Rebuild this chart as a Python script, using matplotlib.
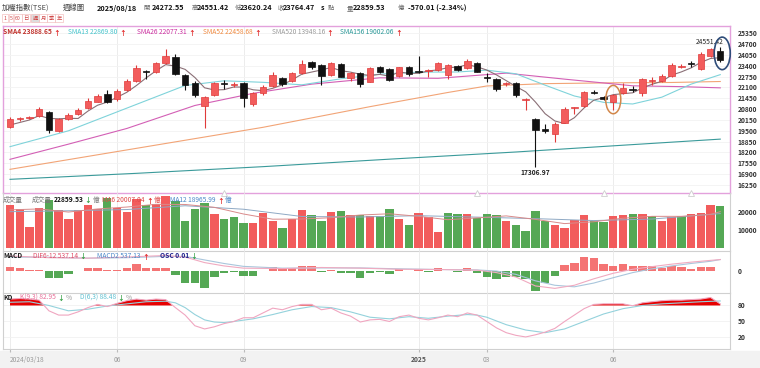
import numpy as np
import matplotlib
matplotlib.use('Agg')
from matplotlib import pyplot as plt
from matplotlib.patches import Ellipse, Rectangle

plt.rcParams['font.family'] = ['Noto Sans CJK TC', 'DejaVu Sans']

W, H = 760, 368

# weekly candles, 2024/03/18 .. 2025/08/18
opens = [19730, 20200, 20270, 20410, 20610, 19510, 20210, 20510, 20870, 21250,
         21710, 21390, 21950, 22510, 23110, 23010, 23550, 23950, 22850, 22350,
         21010, 21650, 22380, 22270, 22350, 21110, 21750, 22190, 22650, 22510,
         22950, 23630, 23450, 22850, 23490, 22650, 22990, 22450, 23310, 23190,
         22810, 23310, 23080, 23090, 23150, 22850, 23410, 23250, 23590, 22720,
         22590, 22290, 22390, 21370, 20190, 19600, 19310, 19990, 20890, 20990,
         21810, 21550, 21250, 21750, 22010, 21750, 22490, 22510, 22790, 23330,
         23530, 23210, 23990, 24272.55]
highs = [20300, 20330, 20400, 20950, 20700, 20250, 20550, 20850, 21480, 21700,
         21950, 22000, 22600, 23450, 23150, 23650, 24420, 24100, 22900, 22500,
         21600, 22450, 22550, 22400, 22450, 21800, 22250, 23050, 22700, 23050,
         23750, 23700, 23500, 23650, 23550, 23050, 23050, 23300, 23400, 23250,
         23350, 23400, 23990, 23200, 23650, 23500, 23450, 23800, 23650, 22950,
         22650, 22450, 22450, 21450, 20250, 19900, 20000, 20900, 20950, 21900,
         21950, 21600, 21700, 22350, 22200, 22650, 22750, 22900, 23550, 23500,
         23700, 24200, 24450, 24551.42]
lows = [19650, 20100, 20200, 20350, 19350, 19450, 20150, 20450, 20800, 21200,
        21150, 21300, 21900, 22450, 22590, 22950, 23500, 22850, 21950, 21500,
        19660, 21600, 22000, 22150, 20950, 21000, 21650, 22100, 22200, 22450,
        22900, 23200, 22250, 22800, 22700, 22500, 22100, 22400, 22950, 22500,
        22750, 22800, 22950, 22700, 23100, 22600, 23100, 23200, 23000, 22400,
        21900, 22200, 21550, 20750, 17306.97, 19350, 18850, 19950, 20500, 20950,
        21700, 21350, 20750, 21700, 21850, 21600, 22250, 22450, 22700, 23250,
        23300, 23150, 23900, 23620.24]
closes = [20230, 20290, 20330, 20810, 19550, 20190, 20450, 20770, 21310, 21610,
          21210, 21910, 22510, 23250, 23050, 23590, 23990, 22910, 22250, 21650,
          21510, 22390, 22330, 22300, 21450, 21750, 22150, 22850, 22290, 22950,
          23510, 23350, 22790, 23550, 22750, 22990, 22290, 23250, 23010, 22550,
          23310, 22910, 23030, 23130, 23550, 23450, 23150, 23710, 23050, 22670,
          21990, 22330, 21650, 21400, 19550, 19500, 19910, 20810, 20920, 21850,
          21770, 21410, 21650, 22090, 21970, 22590, 22530, 22790, 23450, 23370,
          23490, 24110, 24390, 23764.47]
close_before = 19680

sma4 = [19850, 20000, 20150, 20415, 20245, 20220, 20250, 20240, 20680, 21035,
        21225, 21510, 21810, 22220, 22680, 23100, 23470, 23385, 23185, 22700,
        22080, 21950, 21970, 22130, 22120, 21960, 21910, 22050, 22260, 22560,
        22900, 23025, 23150, 23300, 23110, 23020, 22895, 22820, 22885, 22775,
        23030, 22945, 22950, 23095, 23155, 23290, 23320, 23465, 23340, 23145,
        22855, 22510, 22160, 21840, 21230, 20525, 20090, 19940, 20285, 20870,
        21340, 21490, 21670, 21730, 21780, 22075, 22295, 22470, 22840, 23035,
        23275, 23605, 23840, 23888.65]
sma13_idx = [0, 6, 12, 18, 22, 26, 30, 34, 38, 42, 46, 49, 52, 55, 58, 61, 64, 67, 70, 73]
sma13 = [18550, 19500, 20860, 22220, 22500, 22410, 22260, 22620, 22900, 23020,
         23030, 23140, 22920, 22240, 21590, 21210, 21110, 21520, 22300, 22869.80]
sma26_idx = [0, 6, 12, 19, 25, 31, 38, 44, 51, 57, 64, 69, 73]
sma26 = [17790, 18700, 19640, 21020, 21750, 22300, 22680, 22650, 22960, 22600,
         22200, 22150, 22077.31]
sma52_idx = [0, 13, 26, 37, 45, 49, 55, 62, 68, 73]
sma52 = [17190, 18450, 19710, 20950, 21800, 22190, 22330, 22380, 22400, 22458.68]
sma156_idx = [0, 13, 26, 39, 52, 62, 73]
sma156 = [16590, 16950, 17350, 17800, 18230, 18600, 19002.06]

volumes = [23900, 21700, 11800, 22100, 26600, 20800, 15800, 20800, 23400, 21700,
           27500, 22100, 19700, 27000, 23400, 24300, 28400, 25700, 14800, 21600,
           24800, 19000, 16100, 17000, 14000, 14000, 19500, 15000, 11000, 16000,
           20700, 18000, 15000, 19700, 20500, 18000, 18000, 17900, 17600, 21200,
           16100, 12700, 19400, 17200, 9100, 19400, 18500, 18800, 16700, 19000,
           18100, 15200, 13000, 9400, 20300, 14900, 12700, 10900, 15400, 18100,
           15200, 14300, 17600, 18100, 18500, 18800, 17600, 15200, 17200, 17600,
           18500, 19400, 23400, 22859.53]
vma6_idx = [0, 3, 6, 9, 12, 15, 18, 21, 24, 27, 30, 33, 36, 39, 42, 45, 48, 51,
            54, 57, 60, 63, 66, 69, 72, 73]
vma6 = [21000, 21500, 19800, 21500, 22530, 24000, 23930, 22380, 18750, 15930,
        16030, 16730, 18200, 18870, 17480, 15650, 16620, 17720, 15830, 13530,
        14530, 16450, 17480, 17480, 18550, 20007.04]
vma12_idx = [0, 6, 12, 18, 24, 30, 36, 42, 48, 54, 60, 66, 73]
vma12 = [20000, 20500, 21170, 23230, 21340, 17390, 17120, 17840, 17050, 16230,
         15180, 16010, 18965.99]

osc = [195, 135, 70, 55, -300, -300, -130, 20, 170, 170,
       65, 60, 170, 320, 170, 170, 170, -160, -530, -530,
       -760, -230, -80, -20, -200, -200, 10, 220, 110, 170,
       260, 230, -10, 60, -90, -90, -280, -50, -10, -110,
       100, 10, 100, -10, 140, 10, -10, 140, -80, -230,
       -350, -260, -260, -350, -860, -530, -200, 290, 400, 670,
       590, 340, 250, 340, 250, 250, 250, 140, 250, 190,
       110, 190, 220, 0.01]
macd_idx = [0, 4, 8, 12, 16, 18, 20, 22, 24, 28, 32, 36, 40, 44, 48, 50, 52, 54,
            56, 58, 60, 62, 64, 66, 68, 70, 72, 73]
dif = [700, 620, 600, 650, 720, 650, 400, 250, 150, 130, 180, 150, 100, 90, 60,
       -50, -250, -650, -760, -620, -330, -80, 100, 220, 330, 420, 500, 537.14]
sig = [650, 640, 600, 620, 680, 680, 520, 360, 230, 150, 160, 160, 120, 90, 70,
       20, -130, -420, -620, -690, -520, -280, -50, 120, 250, 360, 460, 537.13]

k_vals = [92, 93, 92, 90, 70, 62, 62, 68, 76, 82,
          78, 84, 89, 92, 90, 92, 91, 76, 62, 42,
          36, 40, 46, 50, 57, 57, 66, 75, 72, 78,
          82, 82, 72, 75, 66, 60, 49, 53, 54, 50,
          59, 62, 56, 53, 57, 62, 59, 66, 62, 50,
          38, 29, 24, 21, 25, 30, 37, 50, 62, 74,
          82, 83, 83, 83, 79.5, 85, 87, 89, 90, 90,
          91, 92, 95, 82.95]
d_idx = [0, 2, 4, 6, 8, 10, 12, 14, 16, 17, 18, 19, 20, 21, 22, 23, 25, 27, 29, 31,
         33, 35, 37, 39, 41, 43, 45, 47, 48, 49, 51, 53, 55, 57, 59, 61, 63, 65, 67,
         69, 71, 73]
d_vals = [86, 87, 80, 70, 73, 79, 83, 87, 88, 85, 76, 63, 53, 49, 48, 50, 55, 63, 72, 78,
          76, 68, 58, 55, 59, 56, 60, 63, 62, 58, 44, 34, 29, 36, 50, 64, 74, 80, 83,
          85, 87, 88.48]

price_ticks = [16250, 16900, 17550, 18200, 18850, 19500, 20150, 20800, 21450,
               22100, 22750, 23400, 24050, 24700, 25350]
date_idx = [0, 11, 24, 42, 49, 62]
date_labels = ['2024/03/18', '06', '09', '2025', '03', '06']
event_idx = [22, 48, 61, 70]

RED = '#f25c5c'
RED_EDGE = '#e03a3a'
GREEN = '#55a855'
PINK = '#e3a1dc'


def box(x0, y0, x1, y1):
    return [x0 / W, 1 - y1 / H, (x1 - x0) / W, (y1 - y0) / H]


fig = plt.figure(figsize=(W / 100, H / 100), dpi=100)
fig.patch.set_facecolor('white')
fig.patches.append(Rectangle((0, 0), 1, 17 / H, transform=fig.transFigure,
                             color='#f2f2f2', zorder=-10))

ax_p = fig.add_axes(box(3, 26, 730, 193))
ax_v = fig.add_axes(box(3, 193, 730, 251))
ax_m = fig.add_axes(box(3, 251, 730, 293))
ax_k = fig.add_axes(box(3, 293, 730, 349))

x = np.arange(len(closes))
o = np.array(opens)
c = np.array(closes)
for ax in [ax_p, ax_v, ax_m, ax_k]:
    ax.set_xlim(-0.72, 74.0)
    ax.set_xticks([])
    ax.patch.set_alpha(0)
    ax.tick_params(axis='y', left=False, labelleft=False, right=False,
                   labelright=True, pad=2, labelsize=4.8, labelcolor='#333333')
    for xi in date_idx:
        ax.axvline(xi, color='#e9e9e9', lw=0.6, zorder=0)
    for s in ax.spines.values():
        s.set_color('#d0d0d0')
        s.set_linewidth(0.8)
    ax.spines['top'].set_visible(False)

# price panel
for s in ax_p.spines.values():
    s.set_visible(True)
    s.set_color(PINK)
    s.set_linewidth(1.0)
ax_p.set_ylim(15770, 25788)
ax_p.set_yticks(price_ticks)
ax_p.set_yticklabels([str(t) for t in price_ticks], fontweight='bold')
ax_p.hlines(price_ticks, -1, 75, color='#f3f3f3', lw=0.6, zorder=0)

ax_p.plot(sma156_idx, sma156, color='#3a9a9a', lw=0.8)
ax_p.plot(sma52_idx, sma52, color='#f2a476', lw=0.8)
ax_p.plot(sma26_idx, sma26, color='#d35fb5', lw=0.8)
ax_p.plot(sma13_idx, sma13, color='#7fd3da', lw=0.8)
ax_p.plot(x, sma4, color='#8a6f76', lw=0.8)

up = c >= o
edge = np.where(up, RED_EDGE, '#111111')
face = np.where(up, RED, '#111111')
ax_p.vlines(x, lows, highs, colors=edge, lw=0.8, zorder=3)
ax_p.bar(x, np.maximum(np.abs(c - o), 50), bottom=np.minimum(o, c), width=0.66,
         color=face, edgecolor=edge, lw=0.5, zorder=4)

ax_p.annotate(f'{highs[-1]:.2f}', xy=(x[-1], highs[-1]), xytext=(2, 0.5),
              textcoords='offset points', ha='right', va='bottom',
              fontsize=4.8, color='#222222')
lo_i = int(np.argmin(lows))
ax_p.annotate(f'{lows[lo_i]:.2f}', xy=(lo_i, lows[lo_i]), xytext=(0, -1),
              textcoords='offset points', ha='center', va='top',
              fontsize=4.8, fontweight='bold', color='#222222')

ax_p.add_patch(Ellipse((62, (highs[62] + lows[62]) / 2 + 150), 1.55, 1700,
                       fill=False, ec='#d2874a', lw=1.1, zorder=6))
ax_p.add_patch(Ellipse((73.2, (highs[73] + lows[73]) / 2 + 60), 1.65, 1950,
                       fill=False, ec='#2f4d7a', lw=1.2, zorder=6, clip_on=False))
ax_p.plot(event_idx, [15770] * len(event_idx), ls='none', marker='^', ms=4,
          mfc='white', mec='#cfcfcf', mew=0.6, clip_on=False, zorder=5)

# volume panel
prev = np.concatenate([[close_before], c[:-1]])
ax_v.bar(x, volumes, width=0.86, color=np.where(c >= prev, RED, GREEN), zorder=2)
ax_v.plot(vma12_idx, vma12, color='#8fa9c4', lw=0.7, zorder=3)
ax_v.plot(vma6_idx, vma6, color='#d98a8a', lw=0.7, zorder=3)
ax_v.set_ylim(-1360, 30160)
ax_v.set_yticks([10000, 20000])
ax_v.set_yticklabels(['10000', '20000'], fontweight='bold')

# MACD panel
osc_a = np.array(osc)
ax_m.bar(x, osc_a, width=0.86, color=np.where(osc_a >= 0, '#f47474', GREEN), zorder=2)
ax_m.plot(macd_idx, sig, color='#a9c6dc', lw=0.8, zorder=3)
ax_m.plot(macd_idx, dif, color='#f0aac0', lw=0.8, zorder=3)
ax_m.set_ylim(-968, 922)
ax_m.set_yticks([0])
ax_m.set_yticklabels(['0'], fontweight='bold')

# KD panel
k_a = np.array(k_vals, dtype=float)
ax_k.hlines([20, 50, 80], -1, 75, color='#f1f1f1', lw=0.6, zorder=0)
ax_k.fill_between(x, k_a, 80, where=k_a >= 80, interpolate=True,
                  color='#e60000', lw=0, zorder=2)
ax_k.plot(d_idx, d_vals, color='#94d2dc', lw=0.8, zorder=3)
ax_k.plot(x, k_a, color='#f0a6c0', lw=0.8, zorder=3)
ax_k.set_ylim(-1.6, 103.4)
ax_k.set_yticks([20, 50, 80])
ax_k.set_yticklabels(['20', '50', '80'], fontweight='bold')
ax_k.set_xticks(date_idx)
ax_k.set_xticklabels(date_labels, fontsize=4.8, color='#9a9a9a')
ax_k.tick_params(axis='x', length=2.5, color='#bbbbbb', pad=2.5)
lbls = ax_k.get_xticklabels()
lbls[0].set_ha('left')
lbls[3].set_fontweight('bold')
lbls[3].set_color('#555555')

# texts
renderer = fig.canvas.get_renderer()


def chain(xp, yp, parts, size=4.8, gap=1.5):
    for s, col, wt in parts:
        t = fig.text(xp / W, 1 - yp / H, s, color=col, fontsize=size,
                     fontweight=wt, va='center', ha='left', zorder=10)
        xp = t.get_window_extent(renderer).x1 + gap


def put(xp, yp, s, col, wt='normal', size=5.2):
    fig.text(xp / W, 1 - yp / H, s, color=col, fontsize=size, fontweight=wt,
             va='center', ha='left')


UPC = '#e02020'
DNC = '#2e9e3e'

hdr_y = 8
put(2, hdr_y, '加權指數(TSE)', '#444444', size=5.3)
put(63, hdr_y, '週線圖', '#444444', size=5.3)
put(97, hdr_y, '2025/08/18', '#111111', 'bold')
for xl, xv, lab, val in [(143, 152, '開', opens[-1]), (192, 197, '高', highs[-1]),
                         (235, 240, '低', lows[-1]), (278, 283, '收', closes[-1])]:
    put(xl, hdr_y, lab, '#666666', size=4.6)
    put(xv, hdr_y, f'{val:.2f}', '#111111', 'bold')
put(321, hdr_y, 's', '#111111', 'bold')
put(328, hdr_y, '點', '#666666', size=4.6)
put(347, hdr_y, '量', '#666666', size=4.6)
put(353, hdr_y, f'{volumes[-1]:.2f}', '#111111', 'bold')
put(398, hdr_y, '億', '#666666', size=4.6)
put(408, hdr_y, '-570.01 (-2.34%)', '#111111', 'bold')

btn_labels = ['1', '5', '60', '日', '週', '月', '季', '年']
btn_x = [5, 11, 18, 26, 35, 43, 51, 59]
for bx, bl in zip(btn_x, btn_labels):
    fig.text(bx / W, 1 - 18 / H, bl, fontsize=3.8, color='#d04848', ha='center',
             va='center', bbox=dict(boxstyle='square,pad=0.2', lw=0.4,
                                    ec='#f0b0b0',
                                    fc='#dddddd' if bl == '週' else 'white'))

sma_leg = [(3, 'SMA4 23888.65', '#c0302a'), (68, 'SMA13 22869.80', '#45c4cc'),
           (137, 'SMA26 22077.31', '#cc2fa0'), (203, 'SMA52 22458.68', '#f08a40'),
           (272, 'SMA520 13948.16', '#9a9a9a'), (340, 'SMA156 19002.06', '#2a9898')]
for xp, s, col in sma_leg:
    chain(xp, 32, [(s, col, 'bold' if xp == 3 else 'normal'), ('↑', UPC, 'bold')])

chain(3, 200, [('成交量', '#777777', 'normal')])
chain(32, 200, [('成交量', '#777777', 'normal'), ('22859.53', '#111111', 'bold'),
                ('↓', DNC, 'bold'), ('億', '#777777', 'normal')])
chain(102, 200, [('MA6 20007.04', '#e04a4a', 'normal'), ('↑', UPC, 'bold'),
                 ('億', '#e04a4a', 'normal')])
chain(170, 200, [('MA12 18965.99', '#4a88c8', 'normal'), ('↑', UPC, 'bold'),
                 ('億', '#4a88c8', 'normal')])

chain(3, 256, [('MACD', '#222222', 'bold')])
chain(33, 256, [('DIF6-12 537.14', '#e0506a', 'normal'), ('↓', DNC, 'bold')])
chain(97, 256, [('MACD2 537.13', '#4a88c8', 'normal'), ('↑', UPC, 'bold')])
chain(160, 256, [('OSC 0.01', '#23238e', 'bold'), ('↓', DNC, 'bold')])

chain(3, 298, [('KD', '#222222', 'bold')])
chain(20, 298, [('K(9,3) 82.95', '#e8709a', 'normal'), ('↓', DNC, 'bold'),
                ('%', '#999999', 'normal')])
chain(80, 298, [('D(6,3) 88.48', '#5cc0d0', 'normal'), ('↓', DNC, 'bold'),
                ('%', '#999999', 'normal')])

fig.savefig('out.png', dpi=100, facecolor=fig.get_facecolor())
